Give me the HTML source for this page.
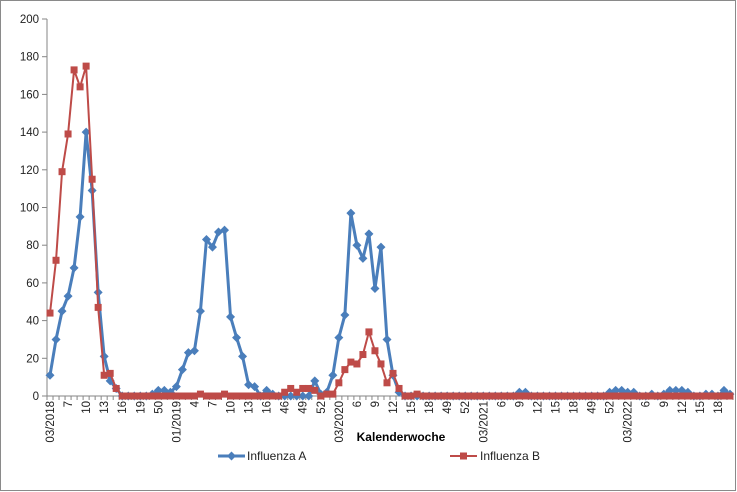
<!DOCTYPE html>
<html><head><meta charset="utf-8"><style>
body{margin:0;background:#fff;}
svg{display:block;font-family:"Liberation Sans",sans-serif;}
</style></head><body>
<svg id="chart" width="737" height="492">
<rect x="0.5" y="0.5" width="735" height="490" fill="#fff" stroke="#8a8a8a"/>
<g id="yaxis"></g>
<g id="xaxis"></g>
<g id="series"></g>
<text x="401" y="441" text-anchor="middle" font-size="12" font-weight="bold">Kalenderwoche</text>
<g>
<line x1="218" y1="456" x2="245" y2="456" stroke="#4a7ebb" stroke-width="3"/>
<path d="M231.5 451.5 L236 456 L231.5 460.5 L227 456 Z" fill="#4a7ebb"/>
<text x="247" y="460" font-size="12" fill="#222">Influenza A</text>
</g>
<g>
<line x1="450" y1="456" x2="477" y2="456" stroke="#be4b48" stroke-width="2"/>
<rect x="460" y="452.5" width="7" height="7" fill="#be4b48"/>
<text x="480" y="460" font-size="12" fill="#222">Influenza B</text>
</g>
</svg>
<script>
const tickLabels = ["03/2018","7","10","13","16","19","50","01/2019","4","7","10","13","16","46","49","52","03/2020","6","9","12","15","18","49","52","03/2021","6","9","12","15","18","49","52","03/2022","6","9","12","15","18"];
const yTicks = [0,20,40,60,80,100,120,140,160,180,200];
const influenzaA = [11,30,45,53,68,95,140,109,55,21,8,4,0,0,0,0,0,1,3,3,2,5,14,23,24,45,83,79,87,88,42,31,21,6,5,0,3,1,0,0,0,0,0,0,8,1,2,11,31,43,97,80,73,86,57,79,30,11,2,0,0,0,0,0,0,0,0,0,0,0,0,0,0,0,0,0,0,0,2,2,0,0,0,0,0,0,0,0,0,0,0,0,0,2,3,3,2,2,0,0,1,0,1,3,3,3,2,0,0,1,1,0,3,1];
const influenzaB = [44,72,119,139,173,164,175,115,47,11,12,4,0,0,0,0,0,0,0,0,0,0,0,0,0,1,0,0,0,1,0,0,0,0,0,0,0,0,0,2,4,2,4,4,3,0,1,1,7,14,18,17,22,34,24,17,7,12,4,0,0,1,0,0,0,0,0,0,0,0,0,0,0,0,0,0,0,0,0,0,0,0,0,0,0,0,0,0,0,0,0,0,0,0,0,0,0,0,0,0,0,0,0,0,0,0,0,0,0,0,0,0,0,0];
const NS="http://www.w3.org/2000/svg";
const N = influenzaA.length;
const plotLeft=47, plotRight=733, plotTop=19, plotBottom=396;
const step=(plotRight-plotLeft)/N;
const xs=i=>plotLeft+(i+0.5)*step;
const ys=v=>plotBottom-(v/200)*(plotBottom-plotTop);
function mk(tag,attrs,parent){const e=document.createElementNS(NS,tag);for(const k in attrs)e.setAttribute(k,attrs[k]);parent.appendChild(e);return e;}
const ya=document.getElementById('yaxis'), xa=document.getElementById('xaxis'), sg=document.getElementById('series');
mk('line',{x1:plotLeft,y1:plotTop,x2:plotLeft,y2:plotBottom,stroke:'#868686'},ya);
yTicks.forEach(v=>{
  mk('line',{x1:plotLeft-5,y1:ys(v),x2:plotLeft,y2:ys(v),stroke:'#868686'},ya);
  const t=mk('text',{x:plotLeft-8,y:ys(v)+4,'text-anchor':'end','font-size':'11.5',fill:'#222'},ya);
  t.textContent=v;
  
  
});
mk('line',{x1:plotLeft,y1:plotBottom,x2:plotRight,y2:plotBottom,stroke:'#868686'},xa);
for(let i=0;i<=N;i++){mk('line',{x1:plotLeft+i*step,y1:plotBottom,x2:plotLeft+i*step,y2:plotBottom+4,stroke:'#868686'},xa);}
tickLabels.forEach((lab,j)=>{
  const x=xs(j*3);
  const t=mk('text',{x:0,y:0,transform:`translate(${x+4},401) rotate(-90)`,'text-anchor':'end','font-size':'11.5',fill:'#222'},xa);
  t.textContent=lab;
  
  
});
function drawSeries(vals,color,w,marker,name){
  const g=mk('g',{},sg);
  
  
  const pts=vals.map((v,i)=>xs(i)+','+ys(v)).join(' ');
  mk('polyline',{points:pts,fill:'none',stroke:color,'stroke-width':w,'stroke-linejoin':'round'},g);
  vals.forEach((v,i)=>{
    const x=xs(i),y=ys(v);let m;
    if(marker==='diamond') m=mk('path',{d:`M${x} ${y-4.5}L${x+4.5} ${y}L${x} ${y+4.5}L${x-4.5} ${y}Z`,fill:color},g);
    else m=mk('rect',{x:x-3.5,y:y-3.5,width:7,height:7,fill:color},g);
    
    
  });
}
drawSeries(influenzaA,'#4a7ebb',3,'diamond','series-influenza-a');
drawSeries(influenzaB,'#be4b48',2,'square','series-influenza-b');
</script>
</body></html>
